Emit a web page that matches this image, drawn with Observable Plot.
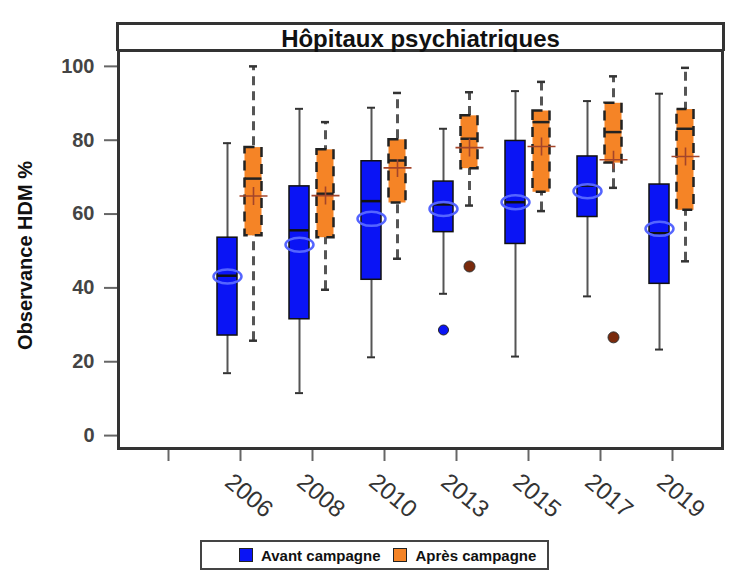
<!DOCTYPE html>
<html>
<head>
<meta charset="utf-8">
<script src="https://cdn.jsdelivr.net/npm/d3@7"></script>
<script src="https://cdn.jsdelivr.net/npm/@observablehq/plot@0.6"></script>
<style>
  html, body { margin: 0; padding: 0; background: #fff; }
  body { font-family: "Liberation Sans", Arial, sans-serif; }
  #wrap { position: relative; width: 750px; height: 579px; }
  #header {
    position: absolute; left: 116px; top: 22px; width: 603px; height: 26px;
    border: 3px solid #333; border-bottom: none; box-sizing: content-box;
    text-align: center; font-weight: bold; font-size: 24px; line-height: 27px; color: #111;
  }
  #legend {
    position: absolute; left: 200px; top: 540px; width: 345px; height: 26px;
    border: 2px solid #444; display: flex; align-items: center; font-weight: bold; font-size: 15px; color: #111;
  }
  .sw { display: inline-block; width: 12px; height: 12px; border: 1px solid #222; margin-right: 8px; }
  #chart svg { position: absolute; left: 0; top: 0; overflow: visible; }
  #chart g[aria-label="y-axis tick label"] text { fill: #444; font-weight: bold; }
  #chart g[aria-label="x-axis tick label"] text { fill: #333; }
</style>
</head>
<body>
<div id="wrap">
  <div id="chart"></div>
  <div id="header">Hôpitaux psychiatriques</div>
  <div id="legend">
    <span style="width:37px"></span>
    <span class="sw" style="background:#0a14f5"></span><span>Avant campagne</span>
    <span style="width:13px"></span>
    <span class="sw" style="background:#f58426"></span><span>Après campagne</span>
  </div>
</div>
<script>
const years = ["2006", "2008", "2010", "2013", "2015", "2017", "2019"];
const xDomain = ["", ...years];
const yTicks = [0, 20, 40, 60, 80, 100];

const avantWhiskerLow  = [16.9, 11.5, 21.2, 38.4, 21.4, 37.7, 23.3];
const avantQ1          = [27.1, 31.5, 42.2, 55.1, 51.9, 59.2, 41.1];
const avantMedian      = [43.3, 55.6, 63.5, 62.6, 63.2, 67.7, 54.8];
const avantQ3          = [53.6, 67.5, 74.3, 68.8, 79.8, 75.6, 68.0];
const avantWhiskerHigh = [79.2, 88.5, 88.8, 83.1, 93.3, 90.6, 92.6];
const avantMean        = [43.1, 51.7, 58.7, 61.4, 63.2, 66.2, 56.0];

const apresWhiskerLow  = [25.7, 39.5, 47.9, 62.3, 60.8, 67.1, 47.2];
const apresQ1          = [54.1, 53.6, 63.0, 72.3, 65.9, 73.8, 61.0];
const apresMedian      = [69.6, 65.5, 74.5, 80.4, 84.9, 82.2, 83.1];
const apresQ3          = [78.0, 77.4, 80.1, 86.6, 87.9, 90.0, 88.3];
const apresWhiskerHigh = [100.0, 84.9, 92.8, 93.0, 95.8, 97.3, 99.6];
const apresMean        = [64.9, 65.0, 72.5, 78.0, 78.3, 74.7, 75.6];

const avantOutlierYears = ["2013"];
const avantOutlierValues = [28.6];
const apresOutlierYears = ["2013", "2017"];
const apresOutlierValues = [45.8, 26.6];

const build = (lo, q1, med, q3, hi, mean) => years.map((year, i) => ({
  year, lo: lo[i], q1: q1[i], med: med[i], q3: q3[i], hi: hi[i], mean: mean[i]
}));
const avant = build(avantWhiskerLow, avantQ1, avantMedian, avantQ3, avantWhiskerHigh, avantMean);
const apres = build(apresWhiskerLow, apresQ1, apresMedian, apresQ3, apresWhiskerHigh, apresMean);
const avantOut = avantOutlierYears.map((year, i) => ({year, value: avantOutlierValues[i]}));
const apresOut = apresOutlierYears.map((year, i) => ({year, value: apresOutlierValues[i]}));

const BLUE = "#0a14f5", ORANGE = "#f58426";
const DA = -13, DP = 13;

const ellipse = {draw(ctx) {
  const rx = 14, ry = 7, k = 0.5523;
  ctx.moveTo(rx, 0);
  ctx.bezierCurveTo(rx, ry * k, rx * k, ry, 0, ry);
  ctx.bezierCurveTo(-rx * k, ry, -rx, ry * k, -rx, 0);
  ctx.bezierCurveTo(-rx, -ry * k, -rx * k, -ry, 0, -ry);
  ctx.bezierCurveTo(rx * k, -ry, rx, -ry * k, rx, 0);
  ctx.closePath();
}};
const cross = {draw(ctx) {
  ctx.moveTo(-14, 0); ctx.lineTo(14, 0);
  ctx.moveTo(0, -9); ctx.lineTo(0, 9);
}};

const chart = Plot.plot({
  width: 750,
  height: 530,
  marginLeft: 118,
  marginRight: 28,
  marginTop: 50,
  marginBottom: 82,
  style: {fontFamily: "'Liberation Sans', Arial, sans-serif", background: "transparent"},
  x: {type: "band", domain: xDomain, paddingInner: 0.72, paddingOuter: 0.535},
  y: {domain: [-3.5, 104.3]},
  marks: [
    // whiskers
    Plot.ruleX(avant, {x: "year", y1: "lo", y2: "hi", dx: DA, stroke: "#555", strokeWidth: 2}),
    Plot.ruleX(apres, {x: "year", y1: "lo", y2: "hi", dx: DP, stroke: "#555", strokeWidth: 3, strokeDasharray: "9,6"}),
    Plot.tickY(avant, {x: "year", y: "lo", dx: DA, insetLeft: 6, insetRight: 6, stroke: "#333", strokeWidth: 2}),
    Plot.tickY(avant, {x: "year", y: "hi", dx: DA, insetLeft: 6, insetRight: 6, stroke: "#333", strokeWidth: 2}),
    Plot.tickY(apres, {x: "year", y: "lo", dx: DP, insetLeft: 6, insetRight: 6, stroke: "#333", strokeWidth: 2.5}),
    Plot.tickY(apres, {x: "year", y: "hi", dx: DP, insetLeft: 6, insetRight: 6, stroke: "#333", strokeWidth: 2.5}),
    // boxes
    Plot.barY(avant, {x: "year", y1: "q1", y2: "q3", dx: DA, fill: BLUE, stroke: "#111", strokeWidth: 1.5}),
    Plot.barY(apres, {x: "year", y1: "q1", y2: "q3", dx: DP, insetLeft: 1.5, insetRight: 1.5, fill: ORANGE, stroke: "#222", strokeWidth: 2.5, strokeDasharray: "10,7"}),
    // medians
    Plot.tickY(avant, {x: "year", y: "med", dx: DA, stroke: "#111", strokeWidth: 2.5}),
    Plot.tickY(apres, {x: "year", y: "med", dx: DP, insetLeft: 1.5, insetRight: 1.5, stroke: "#222", strokeWidth: 2.5}),
    // means
    Plot.dot(avant, {x: "year", y: "mean", dx: DA, symbol: ellipse, fill: "none", stroke: "#5565ff", strokeWidth: 2.5}),
    Plot.dot(apres, {x: "year", y: "mean", dx: DP, symbol: cross, fill: "none", stroke: "#a4452a", strokeWidth: 1.6}),
    // outliers
    Plot.dot(avantOut, {x: "year", y: "value", dx: DA, r: 5, fill: BLUE, stroke: "#222", strokeWidth: 1}),
    Plot.dot(apresOut, {x: "year", y: "value", dx: DP, r: 5.5, fill: "#7a2a0c", stroke: "#333", strokeWidth: 1}),
    // axes
    Plot.axisY({ticks: yTicks, tickSize: 14, tickPadding: 10, fontSize: 20, stroke: "#666", strokeWidth: 2, label: null}),
    Plot.axisX({tickSize: 13, tickFormat: () => "", stroke: "#666", strokeWidth: 2, label: null}),
    Plot.axisX({tickSize: 0, tickPadding: 21, tickRotate: 40, fontSize: 24, dx: -12, dy: 9, label: null}),
    Plot.text(["Observance HDM %"], {frameAnchor: "left", dx: -93, dy: 6, rotate: -90, textAnchor: "middle", fontSize: 20, fontWeight: "bold", fill: "#111"}),
    Plot.frame({stroke: "#333", strokeWidth: 3})
  ]
});
document.getElementById("chart").appendChild(chart);
</script>
</body>
</html>
